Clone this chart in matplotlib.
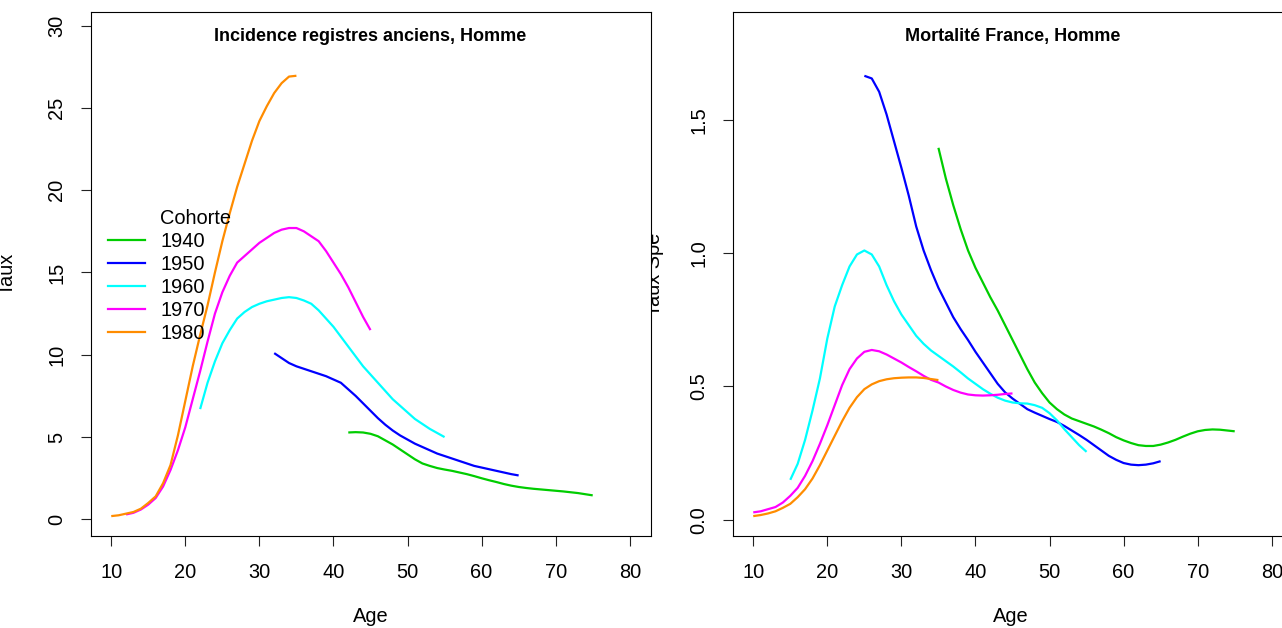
import numpy as np
import matplotlib
matplotlib.use("Agg")
import matplotlib.pyplot as plt
from matplotlib.lines import Line2D
from matplotlib.transforms import Bbox

plt.rcParams['font.family'] = ['Liberation Sans', 'DejaVu Sans']

cohorts = ['1940', '1950', '1960', '1970', '1980']
colors = ['#00CD00', '#0000FF', '#00FFFF', '#FF00FF', '#FF8C00']

# Incidence registres anciens (left panel), first age of each cohort + yearly values
inc_start = [42, 32, 22, 12, 10]
inc_1940 = [5.28, 5.3, 5.28, 5.2, 5.05, 4.8, 4.55, 4.25, 3.95, 3.65, 3.4, 3.25, 3.12, 3.03,
            2.95, 2.85, 2.75, 2.63, 2.5, 2.38, 2.27, 2.15, 2.05, 1.97, 1.91, 1.86, 1.82,
            1.78, 1.74, 1.7, 1.65, 1.6, 1.53, 1.46]
inc_1950 = [10.1, 9.8, 9.5, 9.3, 9.15, 9.0, 8.85, 8.7, 8.5, 8.3, 7.9, 7.5, 7.05, 6.6, 6.15,
            5.75, 5.4, 5.1, 4.85, 4.6, 4.4, 4.2, 4.0, 3.85, 3.7, 3.55, 3.4, 3.25, 3.15,
            3.05, 2.95, 2.85, 2.75, 2.67]
inc_1960 = [6.7, 8.3, 9.6, 10.7, 11.5, 12.2, 12.6, 12.9, 13.1, 13.25, 13.35, 13.45, 13.5,
            13.45, 13.3, 13.1, 12.7, 12.2, 11.7, 11.1, 10.5, 9.9, 9.3, 8.8, 8.3, 7.8, 7.3,
            6.9, 6.5, 6.1, 5.8, 5.5, 5.25, 5.0]
inc_1970 = [0.3, 0.4, 0.6, 0.9, 1.3, 2.0, 3.0, 4.2, 5.6, 7.3, 9.0, 10.8, 12.5, 13.8, 14.8,
            15.6, 16.0, 16.4, 16.8, 17.1, 17.4, 17.6, 17.7, 17.7, 17.5, 17.2, 16.9, 16.3,
            15.6, 14.9, 14.1, 13.2, 12.3, 11.5]
inc_1980 = [0.2, 0.25, 0.35, 0.45, 0.65, 1.0, 1.4, 2.2, 3.3, 5.1, 7.2, 9.3, 11.2, 13.0,
            15.0, 16.9, 18.6, 20.2, 21.6, 23.0, 24.2, 25.1, 25.9, 26.5, 26.9, 26.95]

# Mortalite France (right panel)
mort_start = [35, 25, 15, 10, 10]
mort_1940 = [1.395, 1.28, 1.18, 1.09, 1.01, 0.945, 0.89, 0.835, 0.785, 0.73, 0.675, 0.62,
             0.565, 0.515, 0.475, 0.44, 0.415, 0.395, 0.38, 0.37, 0.36, 0.35, 0.338, 0.325,
             0.31, 0.298, 0.288, 0.28, 0.277, 0.277, 0.282, 0.29, 0.3, 0.312, 0.323, 0.332,
             0.337, 0.339, 0.338, 0.335, 0.332]
mort_1950 = [1.665, 1.655, 1.605, 1.52, 1.42, 1.32, 1.215, 1.1, 1.01, 0.936, 0.87, 0.815,
             0.76, 0.715, 0.674, 0.63, 0.59, 0.55, 0.51, 0.478, 0.455, 0.435, 0.415, 0.402,
             0.39, 0.378, 0.367, 0.352, 0.335, 0.318, 0.3, 0.28, 0.26, 0.24, 0.225, 0.213,
             0.207, 0.205, 0.207, 0.212, 0.22]
mort_1960 = [0.15, 0.21, 0.3, 0.41, 0.53, 0.68, 0.8, 0.88, 0.95, 0.995, 1.01, 0.995, 0.95,
             0.88, 0.82, 0.77, 0.73, 0.69, 0.66, 0.635, 0.615, 0.595, 0.575, 0.553, 0.53,
             0.51, 0.49, 0.473, 0.458, 0.447, 0.44, 0.437, 0.436, 0.43, 0.42, 0.4, 0.373,
             0.34, 0.31, 0.28, 0.255]
mort_1970 = [0.028, 0.032, 0.04, 0.048, 0.065, 0.09, 0.12, 0.165, 0.22, 0.285, 0.355, 0.43,
             0.505, 0.565, 0.605, 0.63, 0.637, 0.632, 0.62, 0.605, 0.59, 0.573, 0.557, 0.54,
             0.525, 0.515, 0.5, 0.487, 0.477, 0.47, 0.467, 0.466, 0.467, 0.469, 0.472, 0.474]
mort_1980 = [0.014, 0.018, 0.024, 0.032, 0.045, 0.06, 0.085, 0.115, 0.155, 0.205, 0.26,
             0.315, 0.37, 0.42, 0.46, 0.49, 0.508, 0.52, 0.527, 0.531, 0.533, 0.534, 0.534,
             0.532, 0.528, 0.524]

inc = [inc_1940, inc_1950, inc_1960, inc_1970, inc_1980]
mort = [mort_1940, mort_1950, mort_1960, mort_1970, mort_1980]

FS = 14.4

W, H = 1282, 628
fig = plt.figure(figsize=(W / 100, H / 100), dpi=100)
ax1 = fig.add_axes([90.5 / W, 1 - 535.5 / H, 560 / W, 523.5 / H])
ax2 = fig.add_axes([732.5 / W, 1 - 535.5 / H, 560 / W, 523.5 / H])


def r_lim(lo, hi):
    pad = (hi - lo) * 0.04
    return lo - pad, hi + pad


def draw_panel(ax, starts, series, title, yticks, yfmt):
    allv = []
    for s, vals, c in zip(starts, series, colors):
        ages = np.arange(s, s + len(vals))
        ax.plot(ages, vals, color=c, lw=1.6, solid_capstyle='butt')
        allv += vals
    ax.set_xlim(*r_lim(10, 80))
    ax.set_ylim(*r_lim(min(allv), max(allv) * 1.1))
    ax.set_xticks(range(10, 81, 10))
    ax.set_yticks(yticks)
    ax.set_yticklabels([yfmt.format(v) for v in yticks])
    ax.tick_params(length=7.5, width=0.8, labelsize=FS, color='#222222')
    ax.tick_params(axis='x', pad=12)
    ax.tick_params(axis='y', pad=10)
    plt.setp(ax.get_yticklabels(), rotation=90, va='center')
    for sp in ax.spines.values():
        sp.set_linewidth(0.8)
    ax.text(0.5, 0.954, title, transform=ax.transAxes, ha='center', va='center',
            fontsize=13, fontweight='bold')


draw_panel(ax1, inc_start, inc, 'Incidence registres anciens, Homme', [0, 5, 10, 15, 20, 25, 30], '{:g}')
draw_panel(ax2, mort_start, mort, 'Mortalité France, Homme', [0.0, 0.5, 1.0, 1.5], '{:.1f}')

fig.text(370.5 / W, 1 - 617 / H, 'Age', ha='center', va='center', fontsize=FS)
fig.text(1011 / W, 1 - 617 / H, 'Age', ha='center', va='center', fontsize=FS)
fig.text(7 / W, 1 - 274 / H, 'Taux', ha='center', va='center', rotation=90, fontsize=FS)
t = fig.text(655 / W, 1 - 274 / H, 'Taux Spe', ha='center', va='center', rotation=90, fontsize=FS)
t.set_clip_box(Bbox.from_extents(651, 0, W, H))
t.set_clip_on(True)

handles = [Line2D([], [], color='none')] + [Line2D([], [], color=c, lw=1.6) for c in colors]
labels = ['Cohorte'] + cohorts
ax1.legend(handles, labels, loc='upper left', bbox_to_anchor=(108 / W, 1 - 209 / H),
           bbox_transform=fig.transFigure, frameon=False, fontsize=FS, borderpad=0,
           borderaxespad=0, handlelength=1.85, handletextpad=0.75, labelspacing=0.2)

fig.savefig('out.png', dpi=100)
